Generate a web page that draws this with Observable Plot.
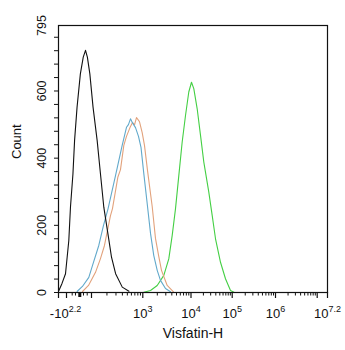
<!DOCTYPE html>
<html><head><meta charset="utf-8">
<script src="https://cdn.jsdelivr.net/npm/d3@7"></script>
<script src="https://cdn.jsdelivr.net/npm/@observablehq/plot@0.6"></script>
<style>body{margin:0;background:#fff;} svg{display:block;}</style>
</head><body><div id="chart"></div>
<script>
// x values are display decades of the biexponential axis (3 = 10^3)
const controlX = [1.21, 1.285, 1.37, 1.45, 1.49, 1.55, 1.59, 1.65, 1.73, 1.80, 1.855, 1.90, 1.96, 2.03, 2.11, 2.175, 2.24, 2.34, 2.39, 2.47, 2.60, 2.73];
const controlY = [6, 27, 56, 155, 254, 353, 453, 552, 651, 701, 721, 701, 651, 552, 453, 353, 254, 155, 105, 56, 16, 4];
const blueX = [1.65, 1.78, 1.935, 2.014, 2.142, 2.234, 2.322, 2.468, 2.598, 2.682, 2.72, 2.76, 2.80, 2.858, 2.916, 2.965, 3.021, 3.091, 3.160, 3.228, 3.299, 3.367, 3.471, 3.575];
const blueY = [3, 18, 45, 78, 140, 200, 249, 348, 438, 492, 500, 517, 505, 491, 465, 432, 354, 265, 176, 110, 66, 36, 12, 2];
const orangeX = [1.782, 1.927, 2.078, 2.175, 2.253, 2.370, 2.409, 2.513, 2.565, 2.630, 2.682, 2.750, 2.799, 2.84, 2.877, 2.935, 2.988, 3.035, 3.098, 3.195, 3.263, 3.332, 3.388, 3.506, 3.637];
const orangeY = [3, 21, 60, 101, 140, 229, 250, 343, 366, 438, 465, 491, 506, 500, 521, 509, 476, 438, 363, 256, 161, 107, 66, 21, 2];
const greenX = [3.021, 3.160, 3.299, 3.436, 3.539, 3.610, 3.678, 3.747, 3.817, 3.886, 3.954, 4.012, 4.068, 4.150, 4.231, 4.311, 4.432, 4.515, 4.595, 4.716, 4.837, 4.959, 5.05];
const greenY = [1, 6, 21, 51, 100, 170, 249, 348, 448, 527, 597, 626, 607, 547, 468, 388, 299, 229, 160, 90, 41, 6, 0];

const seriesNames = ["green", "orange", "blue", "control"];
const seriesColors = ["#44cf44", "#e2a27c", "#62a9cb", "#111111"];

const xTickValues = [3, 4, 5, 6, 7.2];
const xTickLabels = ["10^3", "10^4", "10^5", "10^6", "10^7.2"];
const xMinLabel = "-10^2.2";
const yTickValues = [0, 200, 400, 600, 795];

const xDomainKnots = [1.2, 2, 3, 4, 5, 6, 7, 7.2];
const xRangeKnots = [58, 91, 142.3, 190.5, 231.7, 275, 316.7, 327];

const seriesData = {
  control: [controlX, controlY], blue: [blueX, blueY],
  orange: [orangeX, orangeY], green: [greenX, greenY]
};
const rows = seriesNames.flatMap(name => {
  const [xs, ys] = seriesData[name];
  return xs.map((x, i) => ({series: name, x, count: ys[i]}));
});

const majorX = [1.2, 1.394, 2, 3, 4, 5, 6, 7, 7.2];
const minorX = [1.532, 1.612, 1.806, 1.896];
for (let d = 2; d <= 6; d++) for (let k = 2; k <= 9; k++) minorX.push(d + Math.log10(k));
const yMinor = d3.range(0, 800, 40);

const font = "Liberation Sans, Arial, sans-serif";
const chart = Plot.plot({
  width: 345, height: 350,
  marginLeft: 58, marginRight: 18, marginTop: 25, marginBottom: 58,
  style: {fontFamily: font, color: "#111", background: "#fff"},
  x: {type: "linear", domain: xDomainKnots, range: xRangeKnots, label: null},
  y: {domain: [0, 795], label: null},
  color: {domain: seriesNames, range: seriesColors},
  marks: [
    Plot.line(rows, {x: "x", y: "count", z: "series", stroke: "series",
      strokeWidth: 1.1, curve: "linear"}),
    Plot.frame({stroke: "#111", strokeWidth: 1.2}),
    Plot.axisX({ticks: majorX, tickSize: 6, tickFormat: () => "", label: null, strokeWidth: 1.2, stroke: "#111"}),
    Plot.axisX({ticks: minorX, tickSize: 3.5, tickFormat: () => "", label: null, strokeWidth: 1, stroke: "#111"}),
    Plot.axisX({ticks: [1.716], tickSize: 5, tickFormat: () => "", label: null, strokeWidth: 3, stroke: "#111"}),
    Plot.axisY({ticks: yMinor, tickSize: 4, tickFormat: () => "", label: null, strokeWidth: 1, stroke: "#111"}),
    Plot.text(xTickValues, {x: d => d, text: (d, i) => xTickLabels[i], frameAnchor: "bottom",
      dy: 16, lineAnchor: "top", fontSize: 13}),
    Plot.text([xDomainKnots[0]], {x: d => d, text: () => xMinLabel, frameAnchor: "bottom",
      dx: 7, dy: 16, lineAnchor: "top", fontSize: 13}),
    Plot.text(yTickValues, {y: d => d, text: d => String(d), frameAnchor: "left",
      dx: -13, rotate: -90, textAnchor: "middle", lineAnchor: "bottom", fontSize: 12.5}),
    Plot.text(["Visfatin-H"], {text: d => d, frameAnchor: "bottom", dy: 45, fontSize: 14}),
    Plot.text(["Count"], {text: d => d, frameAnchor: "left", dx: -42, rotate: -90, fontSize: 13})
  ]
});

// render exponents as superscripts
const ns = "http://www.w3.org/2000/svg";
chart.querySelectorAll("text").forEach(t => {
  const m = /^(.*10)\^(.+)$/.exec(t.textContent);
  if (!m) return;
  while (t.firstChild) t.removeChild(t.firstChild);
  t.appendChild(document.createTextNode(m[1]));
  const sup = document.createElementNS(ns, "tspan");
  sup.setAttribute("dy", "-6");
  sup.setAttribute("font-size", "9");
  sup.textContent = m[2];
  t.appendChild(sup);
});
document.getElementById("chart").appendChild(chart);
</script>
</body></html>
